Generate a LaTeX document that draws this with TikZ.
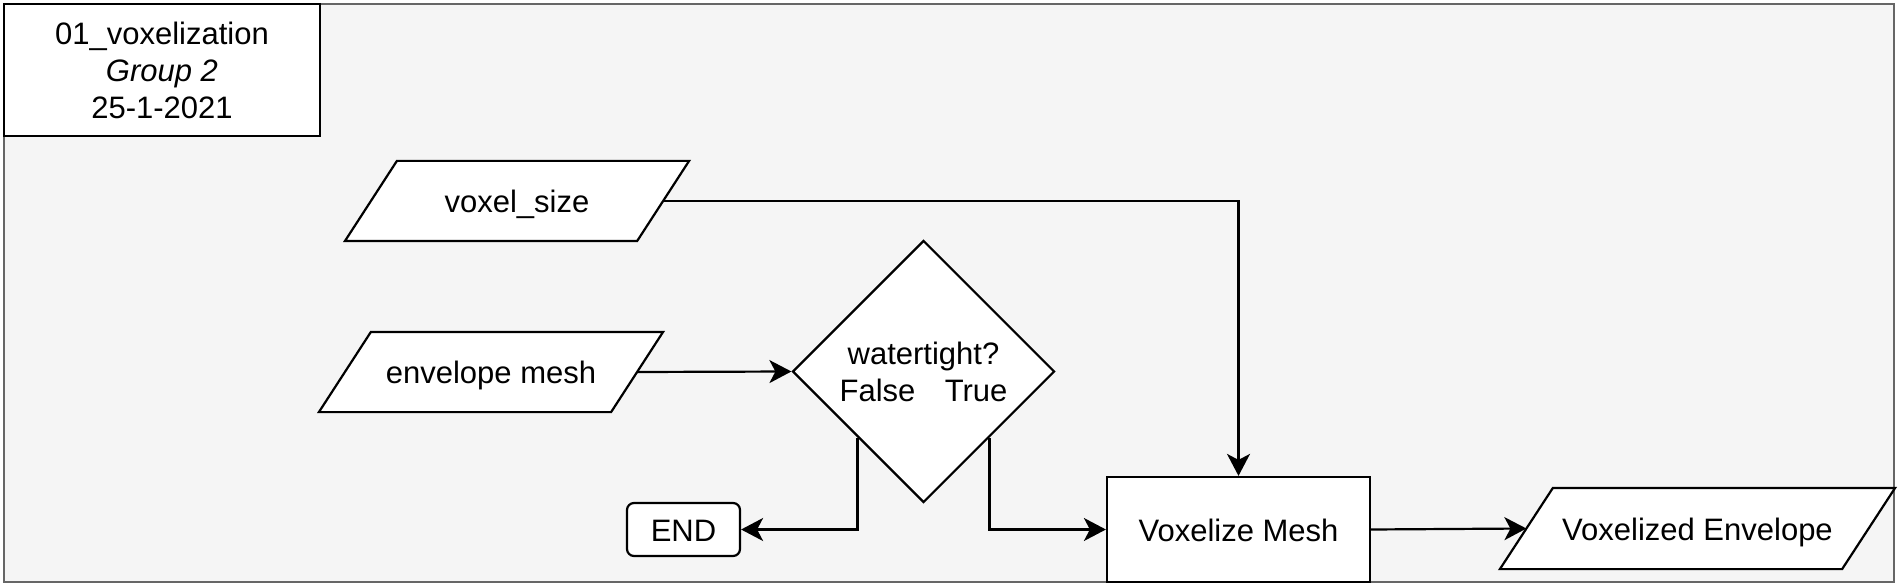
\documentclass[tikz,border=0pt]{standalone}
\usepackage{fontspec}
\setmainfont{Liberation Sans}
\usetikzlibrary{shapes.geometric,arrows.meta,calc,backgrounds}
\definecolor{bgfill}{HTML}{F5F5F5}
\definecolor{bgline}{HTML}{666666}
\tikzset{
  base/.style={draw=black, fill=white, line width=2.2pt, inner sep=2pt,
    font=\fontsize{31}{37}\selectfont, align=center, text=black},
  oneline/.style={text height=31pt, text depth=8pt},
  boxnode/.style={base, rectangle},
  endnode/.style={base, oneline, rectangle, rounded corners=7pt},
  iotext/.style={base, oneline, rectangle, draw=none, fill=none},
  ioshape/.style={draw=black, fill=white, line width=2.2pt, line join=miter},
  decision/.style={base, diamond, aspect=1},
  arr/.style={draw=black, line width=2.2pt,
    -{Stealth[length=22pt, width=23pt, inset=6pt]}},
}
\newcommand{\iopar}[2]{%
  \begin{scope}[on background layer]
  \path[ioshape] ($(#1.north west)+(#2/2,0)$) -- ($(#1.north east)+(#2/2,0)$)
    -- ($(#1.south east)+(-#2/2,0)$) -- ($(#1.south west)+(-#2/2,0)$) -- cycle;
  \end{scope}}
\begin{document}
\begin{tikzpicture}[x=1pt,y=-1pt]
\useasboundingbox (0,0) rectangle (1898,585);
\begin{scope}[on background layer]
\fill[white] (0,0) rectangle (1898,585);
\draw[fill=bgfill, draw=bgline, line width=2.2pt] (4,4) rectangle (1894,582);
\end{scope}

\node[boxnode, minimum width=316pt, minimum height=132pt] (title) at (162,70)
  {01\_voxelization\\\itshape Group 2\\25-1-2021};

\node[iotext, minimum width=290pt, minimum height=78pt] (vs) at (517,201) {voxel\_size};
\iopar{vs}{52}
\node[iotext, minimum width=290pt, minimum height=78pt] (env) at (491,372) {envelope mesh};
\iopar{env}{52}
\node[decision, minimum width=262pt, minimum height=262pt] (dia) at (923.5,371.5)
  {watertight?\\False\hspace{0.95em}True};
\node[endnode, minimum width=113pt, minimum height=53pt] (end) at (683.5,529.5) {END};
\node[boxnode, oneline, minimum width=263pt, minimum height=105pt] (vox) at (1238.5,529.5) {Voxelize Mesh};
\node[iotext, minimum width=340pt, minimum height=79pt] (out) at (1697.5,528.5) {Voxelized Envelope};
\iopar{out}{53}

\draw[arr] (vs.east) -| (vox.north);
\draw[arr] (env.east) -- (dia.west);
\draw[arr] (dia.south west) |- (end.east);
\draw[arr] (dia.south east) |- (vox.west);
\draw[arr] (vox.east) -- (out.west);
\end{tikzpicture}
\end{document}
